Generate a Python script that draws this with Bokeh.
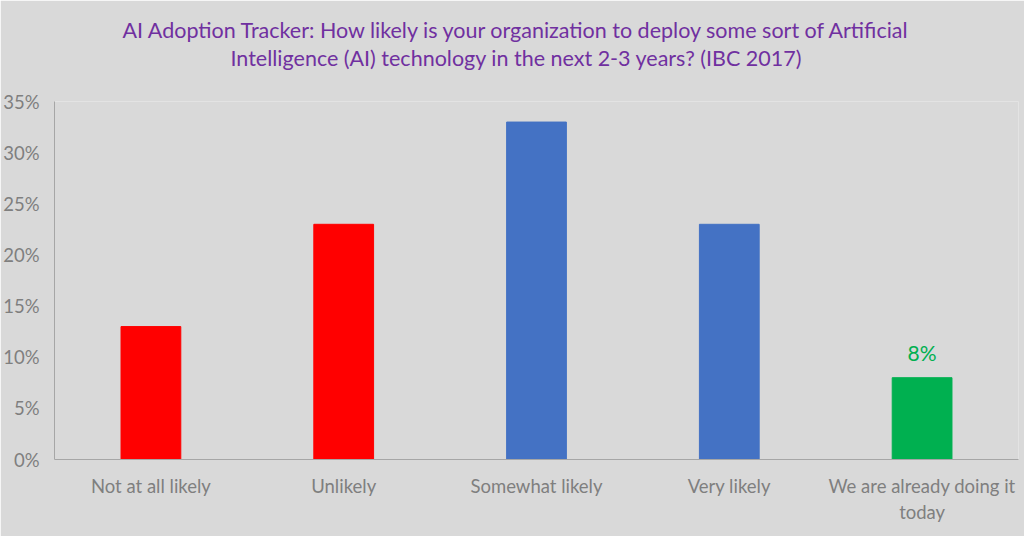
from bokeh.plotting import figure
from bokeh.models import ColumnDataSource, NumeralTickFormatter, SingleIntervalTicker, FactorRange, Range1d, Title
from bokeh.core.properties import value
from bokeh.embed import file_html
from bokeh.resources import INLINE

categories = ["Not at all likely", "Unlikely", "Somewhat likely", "Very likely", "We are already doing it\ntoday"]
shares = [0.13, 0.23, 0.33, 0.23, 0.08]
bar_colors = ["#FF0000", "#FF0000", "#4472C4", "#4472C4", "#00B050"]
data_labels = ["", "", "", "", "8%"]
title_lines = ["AI Adoption Tracker: How likely is your organization to deploy some sort of Artificial",
               "Intelligence (AI) technology in the next 2-3 years? (IBC 2017)"]

FONT = "Lato"
BG = "#D9D9D9"
GRAY = "#7F7F7F"
PURPLE = "#7030A0"

source = ColumnDataSource(dict(cat=categories, share=shares, color=bar_colors, label=data_labels))

p = figure(
    width=1024, height=536,
    x_range=FactorRange(*categories, range_padding=0),
    y_range=Range1d(0, 0.3501),
    output_backend="svg", toolbar_location=None,
    title=title_lines[0],
    min_border_left=41, min_border_right=6, min_border_bottom=77, min_border_top=101,
)
p.background_fill_color = BG
p.border_fill_color = BG
p.outline_line_color = None

def style_title(t, offset):
    t.text_font = FONT
    t.text_font_size = "21.5px"
    t.text_font_style = "normal"
    t.text_color = PURPLE
    t.align = "left"
    t.offset = offset

# spacer between the title block and the plot frame
spacer = Title(text=" ", text_font_size="21.5px", standoff=5)
p.add_layout(spacer, "above")

second_title = Title(text=title_lines[1])
style_title(second_title, 176)
second_title.standoff = 0
p.add_layout(second_title, "above")

style_title(p.title, 68)
p.title.standoff = 0

p.vbar(x="cat", top="share", width=0.31, color="color", source=source)
p.text(x="cat", y="share", text="label", source=source, text_align="center",
       text_baseline="bottom", y_offset=-13, text_color="#00B050",
       text_font=value(FONT), text_font_size="21px")

p.xgrid.visible = False
p.ygrid.visible = False

p.yaxis.ticker = SingleIntervalTicker(interval=0.05)
p.yaxis.formatter = NumeralTickFormatter(format="0%")
for ax in (p.xaxis[0], p.yaxis[0]):
    ax.axis_line_color = "#A6A6A6"
    ax.axis_line_width = 1
    ax.major_tick_line_color = None
    ax.minor_tick_line_color = None
    ax.major_label_text_font = FONT
    ax.major_label_text_font_size = "18.5px"
    ax.major_label_text_color = GRAY
p.yaxis.major_label_standoff = 9
p.xaxis.major_label_standoff = 9

open("out.html", "w").write(file_html(p, INLINE))
